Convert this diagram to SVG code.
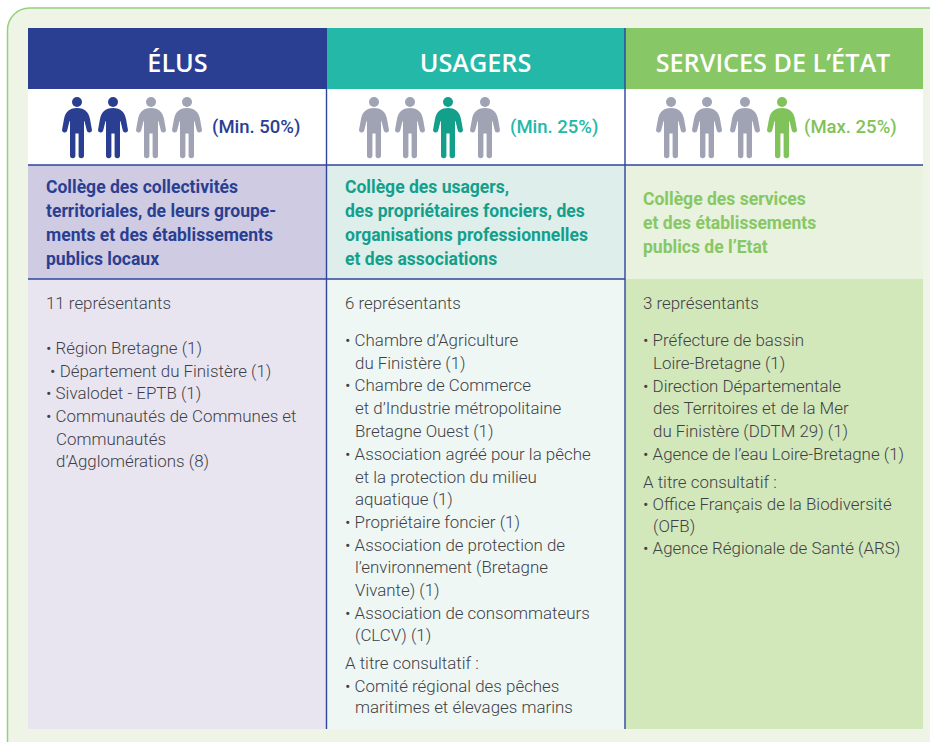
<svg xmlns="http://www.w3.org/2000/svg" width="930" height="742" viewBox="0 0 930 742">
<style>
.h{font-family:"Open Sans","Liberation Sans",sans-serif;font-size:25.200px;font-weight:600;fill:#fff;text-anchor:middle}
.pct{font-family:Roboto,"Liberation Sans",sans-serif;font-size:18.500px;font-weight:500}
.c{font-family:Roboto,"Liberation Sans",sans-serif;font-size:17.550px;font-weight:700}
.t{font-family:Roboto,"Liberation Sans",sans-serif;font-size:16.900px;font-weight:300;fill:#3f3f46}
.grey{fill:#9fa3b3}.navy{fill:#2a3f92}.teal{fill:#13a08b}.green{fill:#80c35b}
.rule{stroke:#2f459b;stroke-width:1.4;fill:none}
</style>
<defs>
<g id="p">
<circle cx="0" cy="102" r="5"/>
<path d="M0 108C8 108 11.5 112 13 119L14.9 129.5A2.6 2.6 0 0 1 9.8 130.5L7.6 121.5L7 121V155.500A2.6 2.6 0 0 1 1.6 155.500V133.500H-1.6V155.500A2.6 2.6 0 0 1 -7 155.500V121L-7.6 121.500L-9.800 130.500A2.6 2.6 0 0 1 -14.900 129.500L-13 119C-11.500 112 -8 108 0 108Z"/>
</g>
</defs>
<rect x="7.500" y="8" width="960" height="760" rx="22" fill="#eff5e6" stroke="#95d07c" stroke-width="1.500"/>
<g id="col-elus">
<rect x="28" y="28" width="299" height="61" fill="#2a3f92"/>
<rect x="28" y="89" width="299" height="76" fill="#fff"/>
<rect x="28" y="165" width="299" height="114" fill="#cfcbe2"/>
<rect x="28" y="279" width="299" height="450" fill="#e8e5f1"/>
<text class="h" x="177.500" y="71.500">ÉLUS</text>
<use href="#p" x="77" class="navy"/><use href="#p" x="113" class="navy"/><use href="#p" x="151" class="grey"/><use href="#p" x="187" class="grey"/>
<text class="pct" x="212" y="133" fill="#2a3f92">(Min. 50%)</text>
<text class="c" fill="#2a3f92"><tspan x="46" y="192.500">Collège des collectivités</tspan><tspan x="46" y="216.500">territoriales, de leurs groupe-</tspan><tspan x="46" y="240.500">ments et des établissements</tspan><tspan x="46" y="264.500">publics locaux</tspan></text>
<text class="t"><tspan x="46" y="309">11 représentants</tspan><tspan x="46" y="354">• Région Bretagne (1)</tspan><tspan x="46" y="376.500"> • Département du Finistère (1)</tspan><tspan x="46" y="399">• Sivalodet - EPTB (1)</tspan><tspan x="46" y="421.500">• Communautés de Communes et</tspan><tspan x="56" y="444.500">Communautés</tspan><tspan x="56" y="467">d’Agglomérations (8)</tspan></text>
</g>
<g id="col-usagers">
<rect x="327" y="28" width="298" height="61" fill="#24b8a8"/>
<rect x="327" y="89" width="298" height="76" fill="#fff"/>
<rect x="327" y="165" width="298" height="114" fill="#deeeeb"/>
<rect x="327" y="279" width="298" height="450" fill="#eef7f4"/>
<text class="h" x="475.500" y="71.500">USAGERS</text>
<use href="#p" x="374" class="grey"/><use href="#p" x="410" class="grey"/><use href="#p" x="448" class="teal"/><use href="#p" x="485" class="grey"/>
<text class="pct" x="510" y="133" fill="#24b8a8">(Min. 25%)</text>
<text class="c" fill="#13a08b"><tspan x="345" y="192.500">Collège des usagers,</tspan><tspan x="345" y="216.500">des propriétaires fonciers, des</tspan><tspan x="345" y="240.500">organisations professionnelles</tspan><tspan x="345" y="264.500">et des associations</tspan></text>
<text class="t"><tspan x="345" y="309">6 représentants</tspan><tspan x="345" y="346">• Chambre d’Agriculture</tspan><tspan x="355" y="368.500">du Finistère (1)</tspan><tspan x="345" y="391">• Chambre de Commerce</tspan><tspan x="355" y="414">et d’Industrie métropolitaine</tspan><tspan x="355" y="436.500">Bretagne Ouest (1)</tspan><tspan x="345" y="459.500">• Association agréé pour la pêche</tspan><tspan x="355" y="482.500">et la protection du milieu</tspan><tspan x="355" y="505">aquatique (1)</tspan><tspan x="345" y="527.500">• Propriétaire foncier (1)</tspan><tspan x="345" y="550.500">• Association de protection de</tspan><tspan x="355" y="573">l’environnement (Bretagne</tspan><tspan x="355" y="595.500">Vivante) (1)</tspan><tspan x="345" y="618.500">• Association de consommateurs</tspan><tspan x="355" y="641">(CLCV) (1)</tspan><tspan x="345" y="669">A titre consultatif :</tspan><tspan x="345" y="691.500">• Comité régional des pêches</tspan><tspan x="355" y="713">maritimes et élevages marins</tspan></text>
</g>
<g id="col-etat">
<rect x="625" y="28" width="298" height="61" fill="#87c765"/>
<rect x="625" y="89" width="298" height="76" fill="#fff"/>
<rect x="625" y="165" width="298" height="114" fill="#e8f2de"/>
<rect x="625" y="279" width="298" height="450" fill="#d2e7ba"/>
<text class="h" x="773" y="71.500">SERVICES DE L’ÉTAT</text>
<use href="#p" x="671" class="grey"/><use href="#p" x="707" class="grey"/><use href="#p" x="745" class="grey"/><use href="#p" x="782" class="green"/>
<text class="pct" x="804" y="133" fill="#80c35b">(Max. 25%)</text>
<text class="c" fill="#87c765"><tspan x="643" y="204.500">Collège des services</tspan><tspan x="643" y="228.500">et des établissements</tspan><tspan x="643" y="252.500">publics de l’Etat</tspan></text>
<text class="t"><tspan x="643" y="309">3 représentants</tspan><tspan x="643" y="346">• Préfecture de bassin</tspan><tspan x="653" y="368.500">Loire-Bretagne (1)</tspan><tspan x="643" y="391.500">• Direction Départementale</tspan><tspan x="653" y="414">des Territoires et de la Mer</tspan><tspan x="653" y="436.500">du Finistère (DDTM 29) (1)</tspan><tspan x="643" y="459.500">• Agence de l’eau Loire-Bretagne (1)</tspan><tspan x="643" y="488">A titre consultatif :</tspan><tspan x="643" y="510">• Office Français de la Biodiversité</tspan><tspan x="653" y="532">(OFB)</tspan><tspan x="643" y="553.500">• Agence Régionale de Santé (ARS)</tspan></text>
</g>
<g id="connectors">
<path class="rule" d="M28 165H923M28 279H625"/>
<path class="rule" d="M326.500 89V729M625 28V729"/>
</g>
</svg>
